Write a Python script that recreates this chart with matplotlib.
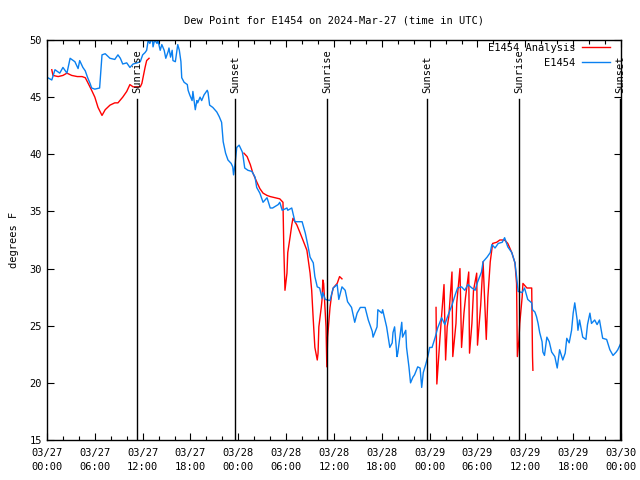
import matplotlib
matplotlib.use("Agg")
import matplotlib.pyplot as plt
import matplotlib.dates as mdates
import numpy as np
import pandas as pd

START = pd.Timestamp("2024-03-27 00:00")
END = pd.Timestamp("2024-03-30 00:00")

# station observations: hours after start, dew point (F)
obs_hours = [
    0.1, 0.6, 1.0, 1.6, 2.0, 2.5, 2.9, 3.5, 3.9, 4.1, 4.5, 4.8, 5.1, 5.4, 5.6,
    6.0, 6.6, 6.9, 7.3, 7.9, 8.5, 8.9, 9.2, 9.5, 10.0, 10.4, 10.8, 11.3, 11.7,
    12.0, 12.3, 12.5, 12.7, 12.9, 13.2, 13.3, 13.5, 13.8, 13.9, 14.2, 14.4,
    14.7, 14.9, 15.2, 15.3, 15.5, 15.7, 15.8, 16.1, 16.3, 16.4, 16.6, 16.8,
    16.9, 17.2, 17.6, 17.7, 17.9, 18.2, 18.3, 18.6, 18.8, 18.9, 19.2, 19.4,
    19.7, 20.1, 20.2, 20.4, 20.8, 21.3, 21.6, 21.9, 22.1, 22.4, 22.7, 23.1,
    23.3, 23.4, 23.6, 23.8, 24.1,
    24.5, 24.6, 24.8, 25.2, 25.7, 26.1, 26.3, 26.7, 27.1, 27.6, 28.0, 28.3,
    29.0, 29.2, 29.5, 30.1, 30.2, 30.7, 31.1, 32.0, 32.4, 32.7, 33.0, 33.4,
    33.6, 33.9, 34.2, 34.5, 34.6, 34.9, 35.5, 35.9, 36.4, 36.6, 37.0,
    37.4, 37.7, 38.2, 38.6, 38.9, 39.3, 39.9, 40.3, 40.8, 40.9, 41.4, 41.5,
    42.0, 42.1, 42.6, 43.0, 43.3, 43.4, 43.6, 43.9, 44.0, 44.5, 44.6, 45.0,
    45.1, 45.4, 45.6, 45.9, 46.1, 46.5, 46.8, 47.0, 47.2, 47.5, 47.8, 48.0,
    48.3, 48.7, 49.0, 49.5, 49.9, 50.3, 50.8, 51.2, 51.5, 52.0, 52.4, 52.8,
    53.3, 53.7, 54.0, 54.5, 54.7, 55.2, 55.6, 55.8, 56.2, 56.6, 57.1, 57.4,
    57.8, 58.3, 58.7, 58.9, 59.1, 59.6, 59.9, 60.3,
    60.8, 60.9, 61.2, 61.4, 61.6, 61.8, 62.1, 62.2, 62.4, 62.7, 63.0, 63.3,
    63.7, 64.0, 64.3, 64.7, 65.0, 65.2, 65.5, 65.8, 66.0, 66.2, 66.5, 66.6,
    66.8, 67.2, 67.6, 67.8, 68.1, 68.3, 68.7, 69.0, 69.3, 69.7, 70.2, 70.6,
    71.0, 71.4, 71.6, 72.0,
]
obs_dewpt = [
    46.7, 46.5, 47.4, 47.1, 47.6, 47.1, 48.4, 48.1, 47.5, 48.2, 47.6, 47.3,
    46.7, 46.2, 45.8, 45.7, 45.8, 48.7, 48.8, 48.4, 48.3, 48.7, 48.4, 47.9,
    48.0, 47.6, 47.9, 48.0, 48.1,
    48.7, 48.9, 49.1, 50.0, 49.7, 50.2, 49.4, 50.0, 49.7, 50.0, 49.1, 49.6,
    49.1, 48.4, 49.0, 49.3, 48.5, 49.1, 48.2, 48.1, 49.1, 49.6, 49.1, 48.1,
    46.7, 46.3, 46.1, 45.6, 45.2, 44.7, 45.5, 43.9, 44.7, 44.5, 45.0, 44.7,
    45.2, 45.6, 45.4, 44.3, 44.1, 43.7, 43.3, 42.8, 41.1, 40.1, 39.5, 39.2,
    38.9, 38.2, 39.2, 40.6, 40.8,
    40.2, 39.8, 38.8, 38.6, 38.5, 38.0, 37.1, 36.6, 35.8, 36.2, 35.3, 35.3,
    35.6, 35.8, 35.1, 35.3, 35.1, 35.3, 34.1, 34.1, 33.1, 32.1, 31.0, 30.5,
    29.3, 28.4, 28.3, 27.4, 27.9, 27.3, 27.2, 28.3, 28.6, 27.3, 28.4,
    28.1, 27.1, 26.6, 25.3, 26.1, 26.6, 26.6, 25.5, 24.5, 24.0, 24.9, 26.4,
    26.1, 26.4, 24.9, 23.1, 23.5, 24.4, 24.9, 22.3, 22.6, 25.3, 24.0, 24.6,
    23.1, 21.4, 20.0, 20.5, 20.7, 21.4, 21.3, 19.6, 20.9, 21.6, 22.4, 23.1,
    23.1, 24.0, 24.8, 25.7, 25.1, 25.9, 26.8, 27.7, 28.3, 28.4, 28.1, 28.6,
    28.3, 28.1, 28.8, 29.7, 30.6, 31.0, 31.4, 32.1, 31.8, 32.2, 32.3, 32.7,
    31.9, 31.4, 30.5, 29.3, 28.0, 27.9, 28.3, 27.3,
    27.0, 26.4, 26.2, 25.8, 25.2, 24.4, 23.6, 22.7, 22.4, 24.0, 23.6, 22.7,
    22.3, 21.3, 22.9, 22.0, 22.6, 23.9, 23.5, 24.6, 26.1, 27.0, 25.5, 24.6,
    25.5, 24.0, 23.8, 25.1, 26.1, 25.2, 25.5, 25.1, 25.5, 23.9, 23.8, 22.9,
    22.4, 22.7, 22.9, 23.5,
]

# analysis series, NaN separates the three runs
ana_hours = [
    0.6, 0.75, 1.4, 2.0, 2.5, 3.1, 3.8, 4.4, 4.8, 5.1, 5.6, 6.0, 6.4, 6.9,
    7.3, 7.9, 8.5, 8.9, 9.5, 10.0, 10.4, 10.8, 11.7, 11.9, 12.3, 12.5, 12.8,
    12.9,
    24.7, 25.1, 25.5, 25.8, 26.3, 26.7, 27.1, 27.6, 28.0, 28.6, 29.2, 29.6,
    29.7, 29.85, 30.1, 30.2, 30.5, 30.7, 30.85, 31.35, 31.7, 32.1, 32.6,
    33.0, 33.2, 33.4, 33.6, 33.9, 34.0, 34.1, 34.4, 34.5, 34.6, 34.7, 35.0,
    35.1, 35.2, 35.5, 35.7, 35.9, 36.4, 36.7, 37.0,
    37.1,
    48.8, 48.9, 49.3, 49.5, 49.8, 50.0, 50.2, 50.4, 50.8, 50.9, 51.3, 51.4,
    51.8, 52.0, 52.3, 52.5, 52.9, 53.0, 53.3, 53.5, 53.9, 54.0, 54.4, 54.7,
    55.1, 55.3, 55.6, 55.9, 56.4, 56.8, 57.4, 57.8, 58.3, 58.7, 58.9, 59.0,
    59.2, 59.3, 59.6, 59.7, 60.2, 60.6, 60.8, 60.9, 60.95,
]
ana_dewpt = [
    47.4, 46.9, 46.8, 46.9, 47.1, 46.9, 46.8, 46.8, 46.7, 46.3, 45.6, 45.0,
    44.1, 43.4, 43.9, 44.3, 44.5, 44.5, 45.0, 45.5, 46.1, 45.9, 45.9, 46.2,
    47.6, 48.2, 48.4,
    np.nan,
    40.1, 39.8, 39.1, 38.4, 37.6, 37.0, 36.6, 36.4, 36.3, 36.2, 36.1, 35.8,
    31.9, 28.1, 29.6, 31.4, 32.8, 33.8, 34.4, 33.8, 33.2, 32.5, 31.6, 29.6,
    28.1, 25.5, 23.1, 22.0, 22.6, 24.9, 26.6, 27.3, 29.0, 28.7, 24.9, 21.4,
    24.0, 26.6, 27.7, 28.3, 28.7, 29.3, 29.1,
    np.nan,
    26.6, 19.9, 24.0, 25.9, 28.6, 22.0, 24.9, 25.8, 29.7, 22.3, 25.2, 27.0,
    30.0, 23.1, 26.1, 27.5, 29.7, 22.6, 25.2, 28.1, 29.6, 23.3, 26.8, 30.6,
    23.8, 27.5, 30.6, 32.2, 32.3, 32.5, 32.5, 32.2, 31.4, 30.5, 28.7, 22.3,
    23.8, 25.2, 27.5, 28.7, 28.3, 28.3, 28.3, 22.3, 21.1,
]

sun_hours = [11.3, 23.6, 35.1, 47.7, 59.2, 71.9]
sun_labels = ["Sunrise", "Sunset", "Sunrise", "Sunset", "Sunrise", "Sunset"]


def to_time(hours):
    return START + pd.to_timedelta(np.asarray(hours, dtype=float), unit="h")


plt.rcParams["font.family"] = ["DejaVu Sans Mono"]
plt.rcParams["font.size"] = 7.5

fig = plt.figure(figsize=(6.4, 4.8), dpi=100)
ax = fig.add_axes([47 / 640, 40 / 480, 574 / 640, 400 / 480])

ax.plot(to_time(ana_hours), ana_dewpt, color="#ff0000", lw=1.0,
        label="E1454 Analysis")
ax.plot(to_time(obs_hours), obs_dewpt, color="#0a80f0", lw=1.0,
        label="E1454")

for h, lab in zip(sun_hours, sun_labels):
    t = to_time([h])[0]
    ax.axvline(t, ymin=0, ymax=0.853, color="black", lw=1.0)
    ax.text(t, 0.868, lab, transform=ax.get_xaxis_transform(),
            rotation=90, ha="center", va="bottom", fontsize=7.5,
            clip_on=False)

ax.set_xlim(START, END)
ax.set_ylim(15, 50)
ax.set_yticks(np.arange(15, 51, 5))
ax.xaxis.set_major_locator(mdates.HourLocator(byhour=[0, 6, 12, 18]))
ax.xaxis.set_minor_locator(mdates.HourLocator(interval=2))
ax.xaxis.set_major_formatter(mdates.DateFormatter("%m/%d\n%H:%M"))
ax.tick_params(which="both", direction="in", top=True, right=True,
               width=0.8, labelsize=7.5)
ax.tick_params(which="major", length=5)
ax.tick_params(which="minor", length=3)
ax.tick_params(axis="x", which="major", pad=6)
for lbl in ax.get_xticklabels():
    lbl.set_linespacing(1.45)
for sp in ax.spines.values():
    sp.set_linewidth(1.0)

ax.set_ylabel("degrees F", fontsize=7.5, labelpad=8)
ax.set_title("Dew Point for E1454 on 2024-Mar-27 (time in UTC)",
             fontsize=7.5, pad=12)

ax.legend(loc="upper right", bbox_to_anchor=(0.9808, 0.9925),
          frameon=False, markerfirst=False, handlelength=2.7,
          handletextpad=0.6, labelspacing=0.45, borderaxespad=0,
          borderpad=0, fontsize=7.5)

fig.savefig("out.png", dpi=100)
